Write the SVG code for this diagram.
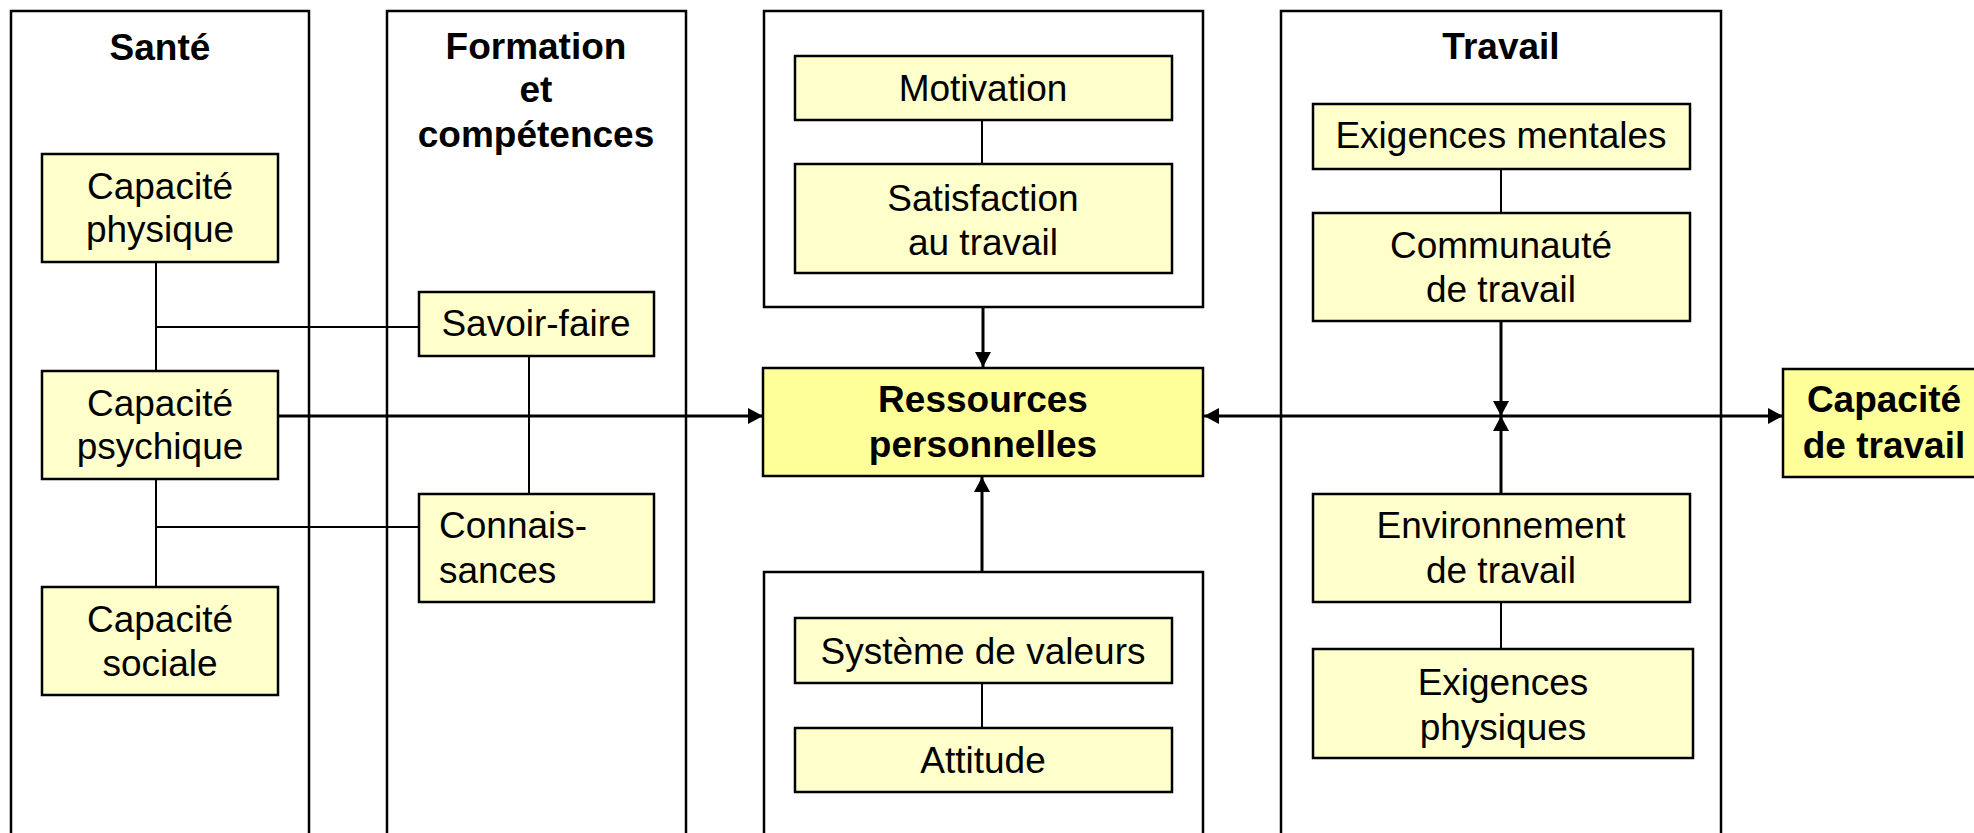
<svg xmlns="http://www.w3.org/2000/svg" width="1974" height="833" viewBox="0 0 1974 833">
<style>
.grp{fill:#fff;stroke:#000;stroke-width:2.5}
.nd{fill:#FFFFCC;stroke:#000;stroke-width:2.5}
.hl{fill:#FFFF99;stroke:#000;stroke-width:2.5}
text{font-family:"Liberation Sans",Arial,sans-serif;font-size:37px;fill:#000}
.c{text-anchor:middle}
.b{font-weight:bold}
.thin{stroke:#000;stroke-width:2;fill:none}
.arr{stroke:#000;stroke-width:3;fill:none}
</style>
<defs>
<marker id="ah" markerUnits="userSpaceOnUse" markerWidth="16" markerHeight="16" refX="15" refY="8" orient="auto-start-reverse" viewBox="0 0 16 16">
<path d="M0,0 L15,8 L0,16 Z" fill="#000"/>
</marker>
</defs>
<g id="groups">
<g id="sante"><rect class="grp" x="11" y="11" width="298" height="840"/><text class="c b" x="160" y="60">Santé</text></g>
<g id="formation"><rect class="grp" x="387" y="11" width="299" height="840"/><text class="c b" x="536" y="59">Formation</text><text class="c b" x="536" y="102">et</text><text class="c b" x="536" y="147">compétences</text></g>
<g id="groupe-motivation"><rect class="grp" x="764" y="11" width="439" height="296"/></g>
<g id="groupe-valeurs"><rect class="grp" x="764" y="572" width="439" height="280"/></g>
<g id="travail"><rect class="grp" x="1281" y="11" width="440" height="840"/><text class="c b" x="1501" y="59">Travail</text></g>
</g>
<g id="connectors">
<line class="thin" x1="156" y1="262" x2="156" y2="371"/>
<line class="thin" x1="156" y1="479" x2="156" y2="587"/>
<line class="thin" x1="156" y1="327" x2="419" y2="327"/>
<line class="thin" x1="156" y1="527" x2="419" y2="527"/>
<line class="thin" x1="529" y1="356" x2="529" y2="494"/>
<line class="thin" x1="982" y1="120" x2="982" y2="164"/>
<line class="thin" x1="982" y1="683" x2="982" y2="728"/>
<line class="thin" x1="1501" y1="169" x2="1501" y2="213"/>
<line class="thin" x1="1501" y1="602" x2="1501" y2="649"/>
<line class="arr" x1="278" y1="416" x2="763" y2="416" marker-end="url(#ah)"/>
<line class="arr" x1="983" y1="307" x2="983" y2="367" marker-end="url(#ah)"/>
<line class="arr" x1="982" y1="572" x2="982" y2="477" marker-end="url(#ah)"/>
<line class="arr" x1="1204" y1="416" x2="1783" y2="416" marker-start="url(#ah)" marker-end="url(#ah)"/>
<line class="arr" x1="1501" y1="321" x2="1501" y2="416" marker-end="url(#ah)"/>
<line class="arr" x1="1501" y1="494" x2="1501" y2="416" marker-end="url(#ah)"/>
</g>
<g id="capacite-physique"><rect class="nd" x="42" y="154" width="236" height="108"/><text class="c" x="160" y="199">Capacité</text><text class="c" x="160" y="242">physique</text></g>
<g id="capacite-psychique"><rect class="nd" x="42" y="371" width="236" height="108"/><text class="c" x="160" y="416">Capacité</text><text class="c" x="160" y="459">psychique</text></g>
<g id="capacite-sociale"><rect class="nd" x="42" y="587" width="236" height="108"/><text class="c" x="160" y="632">Capacité</text><text class="c" x="160" y="676">sociale</text></g>
<g id="savoir-faire"><rect class="nd" x="419" y="292" width="235" height="64"/><text class="c" x="536" y="336">Savoir-faire</text></g>
<g id="connaissances"><rect class="nd" x="419" y="494" width="235" height="108"/><text x="439" y="538">Connais-</text><text x="439" y="583">sances</text></g>
<g id="motivation"><rect class="nd" x="795" y="56" width="377" height="64"/><text class="c" x="983" y="101">Motivation</text></g>
<g id="satisfaction"><rect class="nd" x="795" y="164" width="377" height="109"/><text class="c" x="983" y="211">Satisfaction</text><text class="c" x="983" y="255">au travail</text></g>
<g id="ressources"><rect class="hl" x="763" y="368" width="440" height="108"/><text class="c b" x="983" y="412">Ressources</text><text class="c b" x="983" y="457">personnelles</text></g>
<g id="systeme-valeurs"><rect class="nd" x="795" y="618" width="377" height="65"/><text class="c" x="983" y="664">Système de valeurs</text></g>
<g id="attitude"><rect class="nd" x="795" y="728" width="377" height="64"/><text class="c" x="983" y="773">Attitude</text></g>
<g id="exigences-mentales"><rect class="nd" x="1313" y="104" width="377" height="65"/><text class="c" x="1501" y="148">Exigences mentales</text></g>
<g id="communaute"><rect class="nd" x="1313" y="213" width="377" height="108"/><text class="c" x="1501" y="258">Communauté</text><text class="c" x="1501" y="302">de travail</text></g>
<g id="environnement"><rect class="nd" x="1313" y="494" width="377" height="108"/><text class="c" x="1501" y="538">Environnement</text><text class="c" x="1501" y="583">de travail</text></g>
<g id="exigences-physiques"><rect class="nd" x="1313" y="649" width="380" height="109"/><text class="c" x="1503" y="695">Exigences</text><text class="c" x="1503" y="740">physiques</text></g>
<g id="capacite-travail"><rect class="hl" x="1783" y="369" width="205" height="108"/><text class="c b" x="1884" y="412">Capacité</text><text class="c b" x="1884" y="458">de travail</text></g>
</svg>
